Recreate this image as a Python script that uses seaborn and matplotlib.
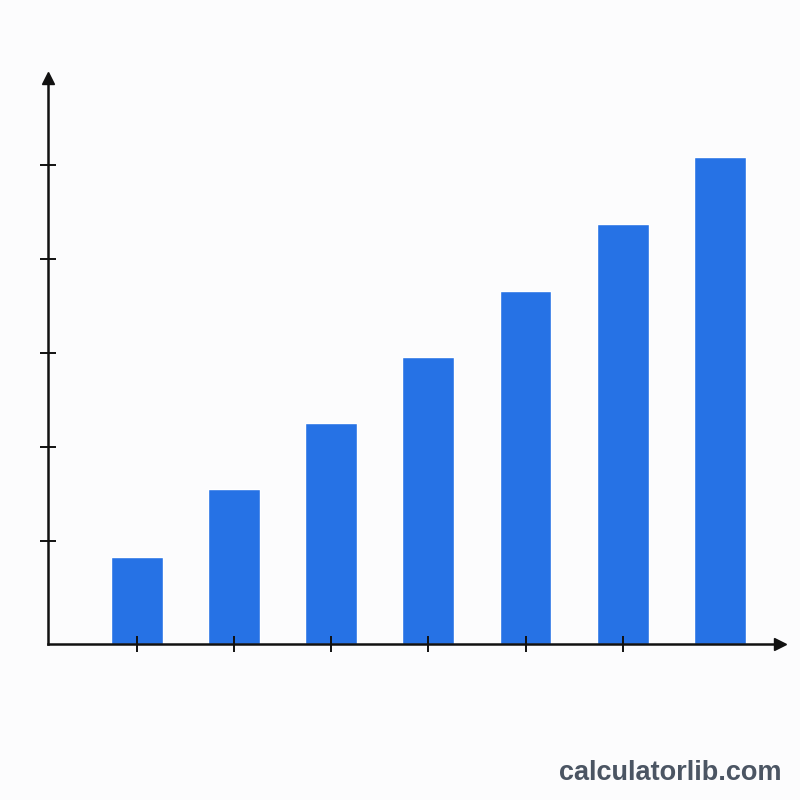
import matplotlib
matplotlib.use("Agg")
import matplotlib.pyplot as plt
import seaborn as sns
import pandas as pd

# bar heights (arbitrary units, no labels shown)
categories = ["A", "B", "C", "D", "E", "F", "G"]
values = [87, 155, 221, 287, 353, 420, 487]
y_ticks = [103, 197, 291, 385, 479]

df = pd.DataFrame({"cat": categories, "val": values})

sns.set_style("white")
fig = plt.figure(figsize=(8, 8), dpi=100)
fig.patch.set_facecolor("#fcfcfd")
ax = fig.add_axes([0.06, 0.195, 0.915, 0.7075])
ax.set_facecolor("#fcfcfd")

sns.barplot(data=df, x="cat", y="val", color="#2672e5", saturation=1,
            width=0.535, ax=ax)

ax.set_xlim(-0.916, 6.62)
ax.set_ylim(0, 566)
ax.set_xticks(range(6))
ax.set_yticks(y_ticks)
ax.set_xticklabels([])
ax.set_yticklabels([])
ax.set_xlabel("")
ax.set_ylabel("")
ax.set_axisbelow(False)  # ticks show on top of the bars
ax.tick_params(bottom=True, left=True, direction="inout", length=11.5,
               width=1.4, color="#111111")

for side in ["top", "right"]:
    ax.spines[side].set_visible(False)
for side in ["left", "bottom"]:
    ax.spines[side].set_linewidth(1.8)
    ax.spines[side].set_color("#111111")

# arrow heads at the axis ends
ax.plot(1, 0, ">", color="#111111", markersize=9, transform=ax.transAxes, clip_on=False)
ax.plot(0, 1, "^", color="#111111", markersize=9, transform=ax.transAxes, clip_on=False)

fig.text(0.977, 0.034, "calculatorlib.com", ha="right", va="center",
         fontsize=19.5, fontweight="bold", color="#4b5563", family="Liberation Sans")

fig.savefig("out.png", dpi=100, facecolor=fig.get_facecolor())
